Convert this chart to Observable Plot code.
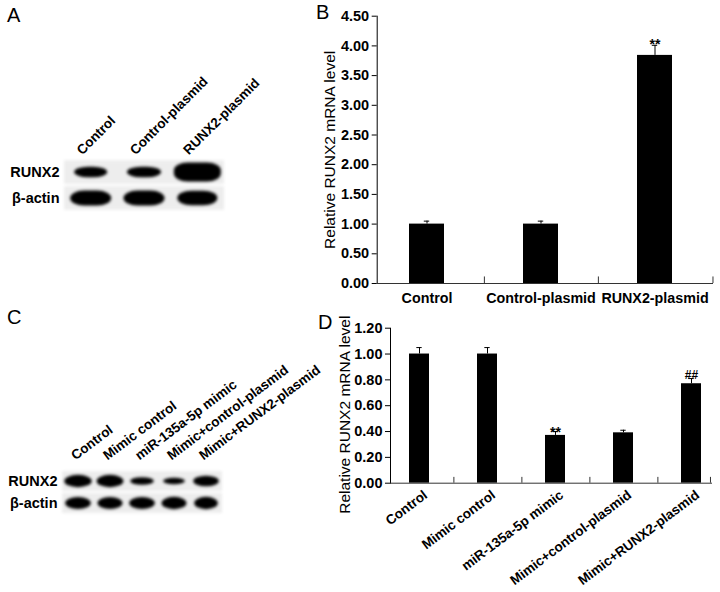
<!DOCTYPE html>
<html><head><meta charset="utf-8">
<script src="https://cdn.jsdelivr.net/npm/d3@7"></script>
<script src="https://cdn.jsdelivr.net/npm/@observablehq/plot@0.6"></script>
<style>
body{margin:0;background:#fff;}
#fig{position:relative;width:720px;height:592px;overflow:hidden;background:#fff;font-family:"Liberation Sans",Arial,Helvetica,sans-serif;}
.panel{position:absolute;}
.panel svg{display:block;overflow:visible;}
.letter{position:absolute;font-size:20px;line-height:1;color:#000;}
</style></head><body><div id="fig"></div>
<script>
// ---------- data ----------
const groupsB = ["Control", "Control-plasmid", "RUNX2-plasmid"];
const meansB = [1.00, 1.00, 3.84];
const errsB = [0.05, 0.05, 0.17];
const marksB = ["", "", "**"];
const ticksB = [0, 0.5, 1.0, 1.5, 2.0, 2.5, 3.0, 3.5, 4.0, 4.5];

const groupsD = ["Control", "Mimic control", "miR-135a-5p mimic", "Mimic+control-plasmid", "Mimic+RUNX2-plasmid"];
const meansD = [1.00, 1.00, 0.37, 0.39, 0.77];
const errsD = [0.05, 0.05, 0.03, 0.02, 0.04];
const marksD = ["", "", "**", "", "##"];
const ticksD = [0, 0.2, 0.4, 0.6, 0.8, 1.0, 1.2];

const yTitle = "Relative RUNX2 mRNA level";

const rowsBlot = ["RUNX2", "β-actin"];
// western blot band signal (relative thickness) and spread (relative width)
const lanesA = ["Control", "Control-plasmid", "RUNX2-plasmid"];
const runx2SignalA = [0.4, 0.4, 0.74];
const runx2SpreadA = [0.62, 0.64, 0.88];
const actinSignalA = [0.58, 0.58, 0.56];
const actinSpreadA = [0.77, 0.77, 0.75];

const lanesC = ["Control", "Mimic control", "miR-135a-5p mimic", "Mimic+control-plasmid", "Mimic+RUNX2-plasmid"];
const runx2SignalC = [0.56, 0.56, 0.34, 0.3, 0.48];
const runx2SpreadC = [0.86, 0.84, 0.74, 0.68, 0.8];
const actinSignalC = [0.54, 0.54, 0.54, 0.56, 0.56];
const actinSpreadC = [0.8, 0.78, 0.8, 0.78, 0.74];

// ---------- helpers ----------
const FONT = '"Liberation Sans", Arial, Helvetica, sans-serif';
const fig = document.getElementById("fig");

function place(node, left, top, width, height) {
  const div = document.createElement("div");
  div.className = "panel";
  Object.assign(div.style, {left: left + "px", top: top + "px", width: width + "px", height: height + "px"});
  div.appendChild(node);
  fig.appendChild(div);
  return node;
}
function letter(t, left, top) {
  const d = document.createElement("div");
  d.className = "letter";
  d.textContent = t;
  d.style.left = left + "px";
  d.style.top = top + "px";
  fig.appendChild(d);
}

function blot(cfg) {
  const n = cfg.lanes.length;
  const bands = [];
  cfg.lanes.forEach((lane, i) => {
    bands.push({lane: i, row: 0, sig: cfg.runx2Sig[i], spr: cfg.runx2Spr[i]});
    bands.push({lane: i, row: 1, sig: cfg.actinSig[i], spr: cfg.actinSpr[i]});
  });
  const svg = Plot.plot({
    width: cfg.width, height: cfg.height,
    marginLeft: cfg.mL, marginRight: cfg.mR, marginTop: cfg.mT, marginBottom: cfg.mB,
    x: {domain: [0, n], axis: null},
    y: {domain: [0, 2], reverse: true, axis: null},
    style: {fontFamily: FONT, background: "transparent", color: "#000", overflow: "visible"},
    marks: [
      Plot.rect(rowsBlot, {x1: 0, x2: n, y1: (d, i) => i + 0.05, y2: (d, i) => i + 0.95, fill: "#ededed"}),
      Plot.rect(bands, {
        x1: d => d.lane + 0.5 - d.spr / 2, x2: d => d.lane + 0.5 + d.spr / 2,
        y1: d => d.row + 0.5 - d.sig / 2, y2: d => d.row + 0.5 + d.sig / 2,
        fill: "#050505", rx: 14, ry: 8
      }),
      Plot.text(cfg.lanes, {x: (d, i) => i + 0.5, frameAnchor: "top", rotate: cfg.rotate,
        textAnchor: "start", lineAnchor: "bottom", dx: cfg.ldx, dy: cfg.ldy,
        fontSize: cfg.lfs, fontWeight: "bold"}),
      Plot.text(rowsBlot, {y: (d, i) => i + 0.5, frameAnchor: "left", textAnchor: "end",
        dx: cfg.rdx, fontSize: 14.5, fontWeight: "bold"})
    ]
  });
  const s = d3.select(svg);
  const defs = s.insert("defs", ":first-child");
  defs.append("filter").attr("id", cfg.id + "b").attr("x", "-40%").attr("y", "-100%").attr("width", "180%").attr("height", "300%")
    .append("feGaussianBlur").attr("stdDeviation", 1.7);
  defs.append("filter").attr("id", cfg.id + "g").attr("x", "-10%").attr("y", "-30%").attr("width", "120%").attr("height", "160%")
    .append("feGaussianBlur").attr("stdDeviation", 1.6);
  const rectGroups = s.selectAll("g[aria-label='rect']").nodes();
  if (rectGroups[0]) rectGroups[0].setAttribute("filter", `url(#${cfg.id}g)`);
  if (rectGroups[1]) rectGroups[1].setAttribute("filter", `url(#${cfg.id}b)`);
  return place(svg, cfg.left, cfg.top, cfg.width, cfg.height);
}

function barChart(cfg) {
  const data = cfg.groups.map((g, i) => ({g, v: cfg.means[i], e: cfg.errs[i], m: cfg.marks[i]}));
  const xOpts = {type: "band", domain: cfg.groups, range: cfg.xRange, paddingInner: cfg.pad, paddingOuter: cfg.pad / 2, align: 0.5};
  const xs = Plot.scale({x: xOpts});
  const endX = cfg.width - cfg.mR;
  const last = cfg.groups[cfg.groups.length - 1];
  const lastCenter = xs.apply(last) + xs.bandwidth / 2;
  const capInset = (xs.bandwidth - cfg.capW) / 2;
  const xLabels = cfg.rotate
    ? Plot.text(cfg.groups, {x: d => d, frameAnchor: "bottom", rotate: cfg.rotate, textAnchor: "end", lineAnchor: "top",
        dx: cfg.xdx, dy: cfg.xdy, fontSize: cfg.xfs, fontWeight: "bold"})
    : Plot.text(cfg.groups, {x: d => d, frameAnchor: "bottom", lineAnchor: "top", dy: cfg.xdy, fontSize: cfg.xfs, fontWeight: "bold"});
  const svg = Plot.plot({
    width: cfg.width, height: cfg.height,
    marginLeft: cfg.mL, marginRight: cfg.mR, marginTop: cfg.mT, marginBottom: cfg.mB,
    x: {...xOpts, axis: null},
    y: {domain: cfg.yDomain, ticks: cfg.ticks, tickFormat: d3.format(".2f"), tickSize: 5, tickPadding: 3, line: true, label: null},
    style: {fontFamily: FONT, fontSize: "14.5px", fontWeight: "bold", background: "transparent", color: "#000", overflow: "visible"},
    marks: [
      Plot.barY(data, {x: "g", y: "v", fill: "#000"}),
      Plot.ruleX(data, {x: "g", y1: "v", y2: d => d.v + d.e, stroke: "#000"}),
      Plot.tickY(data, {x: "g", y: d => d.v + d.e, insetLeft: capInset, insetRight: capInset, stroke: "#000"}),
      Plot.ruleY([cfg.yDomain[0]], {stroke: "#333"}),
      Plot.ruleX(cfg.groups.slice(0, -1), {x: d => d, y1: cfg.yDomain[0], y2: cfg.sepLen, dx: xs.step / 2, stroke: "#333"}),
      Plot.ruleX([last], {x: d => d, y1: cfg.yDomain[0], y2: cfg.sepLen, dx: endX - lastCenter, stroke: "#333"}),
      Plot.text(data.filter(d => d.m.includes("*")), {x: "g", y: d => d.v + d.e, text: "m", lineAnchor: "bottom",
        dy: cfg.starDy, fontSize: 14, fontWeight: "bold"}),
      Plot.text(data.filter(d => d.m.includes("#")), {x: "g", y: d => d.v + d.e, text: "m", lineAnchor: "bottom",
        dy: cfg.hashDy, fontSize: 12, fontWeight: "bold"}),
      xLabels,
      Plot.text([yTitle], {frameAnchor: "left", rotate: -90, textAnchor: "middle", lineAnchor: "middle",
        dx: cfg.tdx, dy: cfg.tdy, fontSize: 15.5, fontWeight: "normal"})
    ]
  });
  return place(svg, cfg.left, cfg.top, cfg.width, cfg.height);
}

// ---------- panels ----------
blot({id: "bA", lanes: lanesA, runx2Sig: runx2SignalA, runx2Spr: runx2SpreadA, actinSig: actinSignalA, actinSpr: actinSpreadA,
  left: 0, top: 0, width: 300, height: 230, mL: 64, mR: 76, mT: 159, mB: 19,
  rotate: -45, ldx: -9, ldy: -4, lfs: 13.5, rdx: -5});

blot({id: "bC", lanes: lanesC, runx2Sig: runx2SignalC, runx2Spr: runx2SpreadC, actinSig: actinSignalC, actinSpr: actinSpreadC,
  left: 0, top: 300, width: 300, height: 230, mL: 62, mR: 78, mT: 170, mB: 16,
  rotate: -37, ldx: -3, ldy: -10, lfs: 13.5, rdx: -5});

barChart({groups: groupsB, means: meansB, errs: errsB, marks: marksB, ticks: ticksB, yDomain: [0, 4.5],
  left: 300, top: 0, width: 420, height: 310, mL: 76.7, mR: 7, mT: 15.7, mB: 27,
  xRange: [68.1, 412.4], pad: 0.69, capW: 6, sepLen: 0.11, starDy: 4, hashDy: 0,
  rotate: 0, xdy: 9, xfs: 14.3, tdx: -47, tdy: 0});

barChart({groups: groupsD, means: meansD, errs: errsD, marks: marksD, ticks: ticksD, yDomain: [0, 1.2],
  left: 300, top: 300, width: 420, height: 292, mL: 90, mR: 8, mT: 27.7, mB: 109.3,
  xRange: [83.6, 427.4], pad: 0.7, capW: 6, sepLen: 0.045, starDy: 5, hashDy: 0,
  rotate: -37, xdx: 3, xdy: 6, xfs: 13.5, tdx: -45, tdy: 9});

letter("A", 7, 5);
letter("B", 316, 2);
letter("C", 7, 307);
letter("D", 318, 312);
</script>
</body></html>
